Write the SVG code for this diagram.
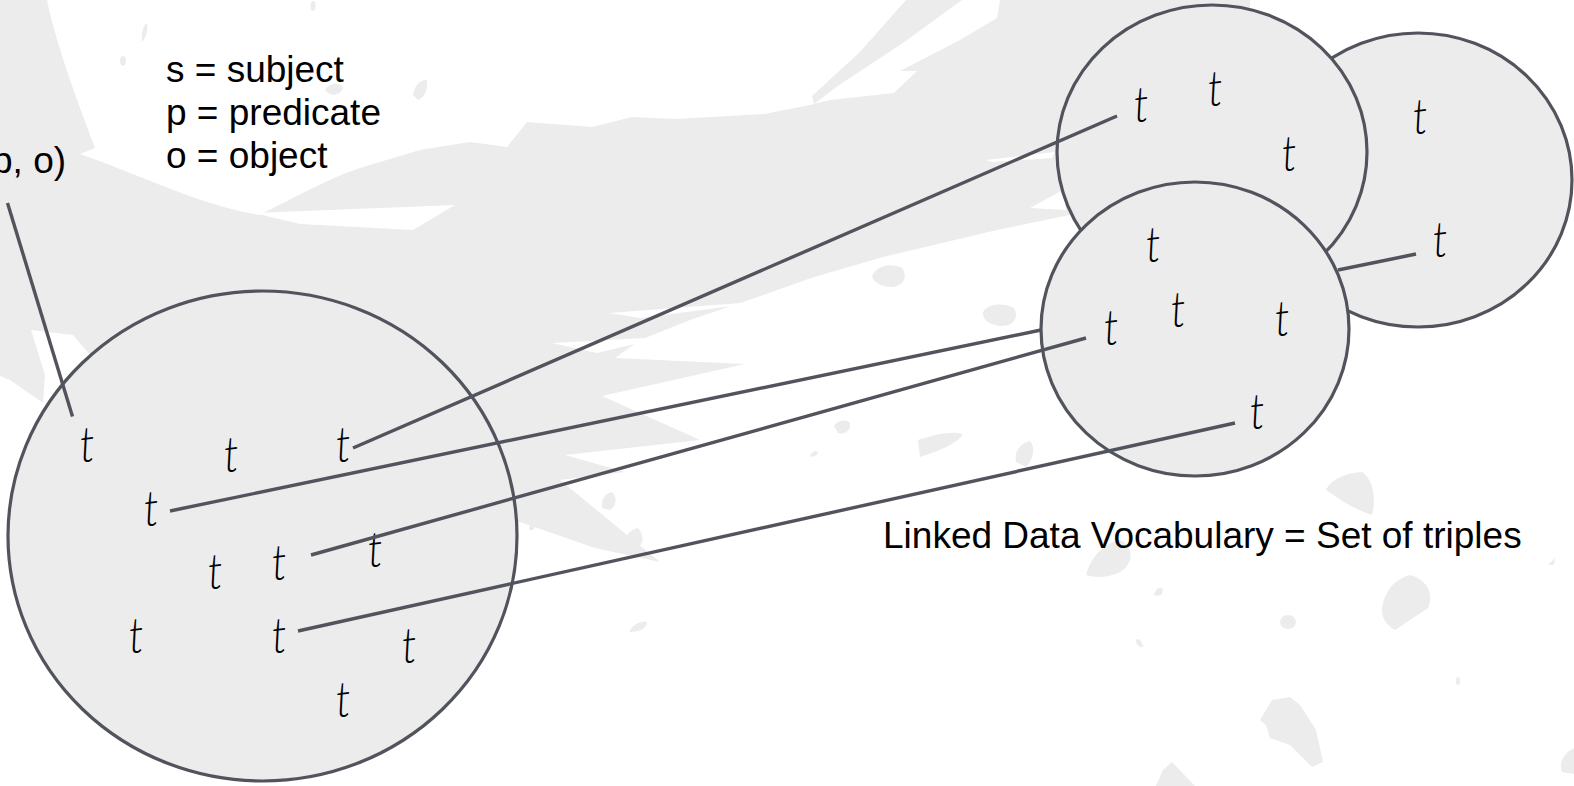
<svg xmlns="http://www.w3.org/2000/svg" width="1574" height="786" viewBox="0 0 1574 786">
  <style>
    .paint { fill: #ececec; }
    .hole { fill: #ffffff; }
    .set { fill: #ececec; stroke: #52545d; stroke-width: 3.2; }
    .link { stroke: #52545d; stroke-width: 3.4; stroke-linecap: butt; fill: none; }
    .label { font-family: "Liberation Sans", Arial, sans-serif; font-size: 37px; fill: #000000; }
    .t { font-family: Lato, "Liberation Sans", sans-serif; font-weight: 300; font-size: 42px; fill: #000000; text-anchor: middle; }
  </style>

  <rect x="0" y="0" width="1574" height="786" fill="#ffffff"/>

  <!-- brush-stroke backdrop -->
  <g id="backdrop">
    <path class="paint" d="M0,0 L47,0 C55,40 75,95 95,148 L80,154 C140,175 200,205 259,215 C300,195 330,178 360,168 L420,150 L470,142 L507,147 L527,122 L592,127 L632,117 L676,119 L764,114 L810,105 L830,100 L894,93 L917,71 L900,71 L960,40 L997,18 L1000,0 L1250,0 L1250,220 L1070,215 L997,230 L883,257 L811,278 L749,300 L690,320 L640,340 L615,358 L745,364 L602,396 L700,440 L565,455 L625,472 L560,480 L660,562 L595,548 L520,522 L300,500 L110,340 L91,356 L73,335 L31,330 L45,375 L43,403 L10,380 L0,376 Z"/>
    <path class="paint" d="M906,0 L962,0 L900,45 L839,85 L814,104 L812,96 L860,52 Z"/>
    <!-- light streaks inside the stroke -->
    <path class="hole" d="M254,213 L455,205 L413,230 L300,224 Z"/>
    <path class="hole" d="M986,160 L1055,152 L1052,158 L992,162 Z"/>
    <path class="hole" d="M1030,208 L1063,190 L1066,210 Z"/>
    <path class="hole" d="M552,343 L664,337 L597,353 Z"/>
    <path class="hole" d="M609,313 L780,300 L640,318 Z"/>
    <!-- scattered flecks -->
    <path class="paint" d="M142,42 C141,32 144,24 147,23 C148,30 146,38 142,42 Z"/>
    <ellipse class="paint" cx="123" cy="61" rx="3" ry="5"/>
    <ellipse class="paint" cx="313" cy="6" rx="2.5" ry="5"/>
    <path class="paint" d="M325,90 C330,82 340,82 343,88 C340,96 330,97 325,90 Z"/>
    <path class="paint" d="M413,95 C414,86 420,80 427,80 C428,90 424,98 418,100 Z"/>
    <path class="paint" d="M872,276 C876,266 890,262 902,268 C908,276 904,286 892,287 C882,287 874,283 872,276 Z"/>
    <path class="paint" d="M983,312 C988,304 1002,302 1014,308 C1020,318 1012,327 1000,326 C990,325 982,320 983,312 Z"/>
    <path class="paint" d="M834,426 C838,420 846,419 850,423 C851,430 845,435 838,433 Z"/>
    <path class="paint" d="M918,440 C930,436 950,430 963,434 C958,444 935,452 920,457 Z"/>
    <path class="paint" d="M1016,462 C1014,452 1020,443 1030,441 C1036,448 1033,460 1026,467 Z"/>
    <path class="paint" d="M810,456 C812,451 816,450 818,452 C817,456 813,458 810,456 Z"/>
    <path class="paint" d="M602,508 C601,500 605,493 612,492 C618,498 616,507 610,510 Z"/>
    <path class="paint" d="M625,545 C624,537 630,529 638,528 C644,535 644,544 638,547 Z"/>
    <path class="paint" d="M630,630 C634,624 642,620 647,622 C647,628 640,632 630,632 Z"/>
    <path class="paint" d="M529,530 C529,525 531,523 535,523 C536,528 534,531 529,530 Z"/>
    <path class="paint" d="M1086,575 C1090,560 1100,545 1120,540 C1136,548 1132,565 1120,572 C1108,578 1096,578 1086,575 Z"/>
    <path class="paint" d="M1326,490 C1330,480 1345,473 1362,472 C1374,480 1376,500 1372,515 C1360,512 1340,500 1326,490 Z"/>
    <path class="paint" d="M1154,595 C1155,590 1158,587 1162,588 C1164,593 1162,597 1154,595 Z"/>
    <path class="paint" d="M1382,610 C1383,595 1392,580 1410,575 C1428,580 1434,595 1428,608 L1395,630 C1388,626 1382,620 1382,610 Z"/>
    <ellipse class="paint" cx="1288" cy="622" rx="8" ry="7"/>
    <path class="paint" d="M1136,640 C1139,637 1142,642 1143,647 C1139,648 1136,644 1136,640 Z"/>
    <path class="paint" d="M1260,720 L1272,700 L1290,697 L1300,705 L1316,730 L1323,762 L1312,767 L1290,745 L1270,738 L1266,725 Z"/>
    <path class="paint" d="M1156,786 L1163,770 L1172,762 L1195,786 Z"/>
    <path class="paint" d="M1574,748 C1565,752 1558,762 1562,772 L1574,774 Z"/>
    <ellipse class="paint" cx="1458" cy="681" rx="2" ry="4"/>
    <path class="paint" d="M1548,565 L1555,558 L1554,565 Z"/>
  </g>

  <!-- the set on the left -->
  <g id="set-main">
    <ellipse class="set" cx="262.5" cy="536" rx="254.5" ry="245"/>
    <text class="t" transform="translate(86,462) rotate(3) skewY(-10) scale(0.95,1.2)">t</text>
    <text class="t" transform="translate(230,472) rotate(3) skewY(-10) scale(0.95,1.2)">t</text>
    <text class="t" transform="translate(342,462) rotate(3) skewY(-10) scale(0.95,1.2)">t</text>
    <text class="t" transform="translate(150,526) rotate(3) skewY(-10) scale(0.95,1.2)">t</text>
    <text class="t" transform="translate(374,567) rotate(3) skewY(-10) scale(0.95,1.2)">t</text>
    <text class="t" transform="translate(278,580) rotate(3) skewY(-10) scale(0.95,1.2)">t</text>
    <text class="t" transform="translate(214,589) rotate(3) skewY(-10) scale(0.95,1.2)">t</text>
    <text class="t" transform="translate(135,653) rotate(3) skewY(-10) scale(0.95,1.2)">t</text>
    <text class="t" transform="translate(278,653) rotate(3) skewY(-10) scale(0.95,1.2)">t</text>
    <text class="t" transform="translate(408,663) rotate(3) skewY(-10) scale(0.95,1.2)">t</text>
    <text class="t" transform="translate(342,717) rotate(3) skewY(-10) scale(0.95,1.2)">t</text>
  </g>

  <!-- vocabulary sets, back to front -->
  <g id="vocab-b">
    <ellipse class="set" cx="1418" cy="180" rx="154" ry="147"/>
    <text class="t" transform="translate(1419,134) rotate(3) skewY(-10) scale(0.95,1.2)">t</text>
    <text class="t" transform="translate(1439,257) rotate(3) skewY(-10) scale(0.95,1.2)">t</text>
  </g>
  <g id="vocab-a">
    <ellipse class="set" cx="1212" cy="152" rx="155" ry="147"/>
    <text class="t" transform="translate(1140,122) rotate(3) skewY(-10) scale(0.95,1.2)">t</text>
    <text class="t" transform="translate(1214,106) rotate(3) skewY(-10) scale(0.95,1.2)">t</text>
    <text class="t" transform="translate(1288,171) rotate(3) skewY(-10) scale(0.95,1.2)">t</text>
  </g>
  <g id="vocab-c">
    <ellipse class="set" cx="1195" cy="329" rx="154" ry="147"/>
    <text class="t" transform="translate(1152,262) rotate(3) skewY(-10) scale(0.95,1.2)">t</text>
    <text class="t" transform="translate(1177,327) rotate(3) skewY(-10) scale(0.95,1.2)">t</text>
    <text class="t" transform="translate(1110,345) rotate(3) skewY(-10) scale(0.95,1.2)">t</text>
    <text class="t" transform="translate(1281,336) rotate(3) skewY(-10) scale(0.95,1.2)">t</text>
    <text class="t" transform="translate(1256,429) rotate(3) skewY(-10) scale(0.95,1.2)">t</text>
  </g>

  <!-- connectors -->
  <g id="connectors">
    <line class="link" x1="7.5" y1="203" x2="72.5" y2="416.5"/>
    <line class="link" x1="353" y1="448" x2="1117" y2="116"/>
    <line class="link" x1="170" y1="511" x2="1041" y2="330"/>
    <line class="link" x1="311" y1="555" x2="1086" y2="338"/>
    <line class="link" x1="298" y1="631" x2="1235" y2="423"/>
    <line class="link" x1="1416" y1="254" x2="1338" y2="270"/>
  </g>

  <!-- captions -->
  <g id="legend">
    <text class="label" x="-8" y="173">p, o)</text>
    <text class="label" x="166" y="82">s = subject</text>
    <text class="label" x="166" y="125">p = predicate</text>
    <text class="label" x="166" y="168">o = object</text>
  </g>
  <g id="caption">
    <text class="label" x="883" y="548">Linked Data Vocabulary = Set of triples</text>
  </g>
</svg>
